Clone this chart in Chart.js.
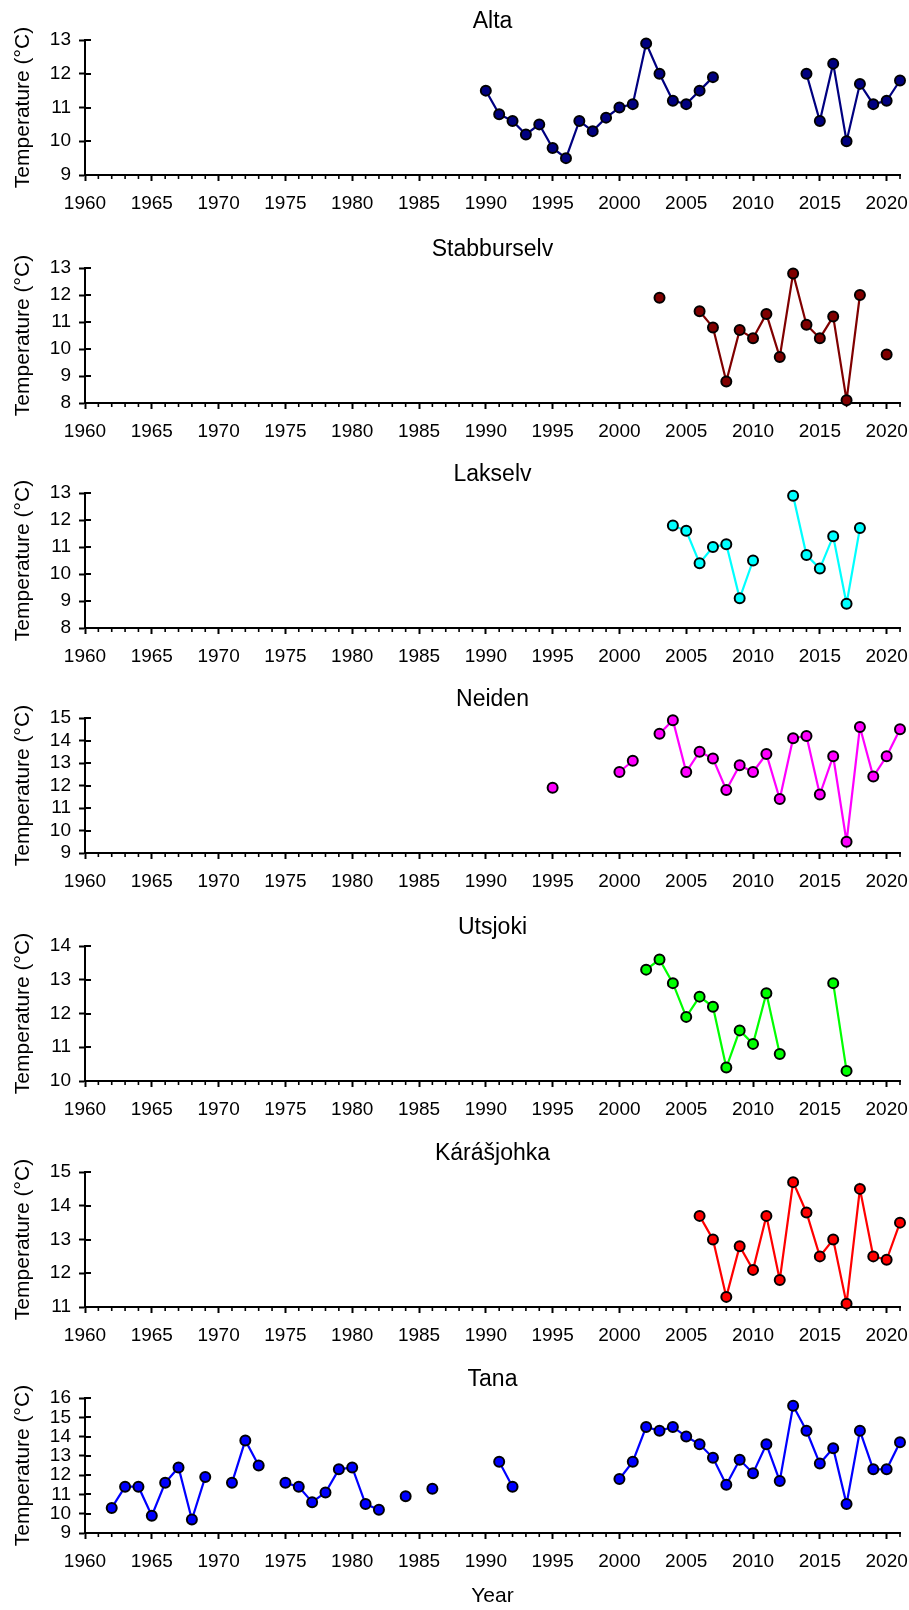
<!DOCTYPE html>
<html>
<head>
    <title>River temperatures</title>
    <style>
        body { margin: 0; background: #fff; }
        #wrap { position: relative; width: 909px; height: 1610px; }
        #wrap canvas { position: absolute; left: 0; }
    </style>
</head>
<body>
    <div id="wrap"></div>

    <script src="https://cdn.jsdelivr.net/npm/chart.js"></script>
    <script>
        // Mean temperature (°C) per year, first value belongs to the start year; null = no data
        const altaStart = 1990;
        const altaTemp = [11.5, 10.8, 10.6, 10.2, 10.5, 9.8, 9.5, 10.6, 10.3, 10.7, 11.0, 11.1, 12.9, 12.0, 11.2, 11.1, 11.5, 11.9,
            null, null, null, null, null, null, 12.0, 10.6, 12.3, 10.0, 11.7, 11.1, 11.2, 11.8];

        const stabburselvStart = 2003;
        const stabburselvTemp = [11.9, null, null, 11.4, 10.8, 8.8, 10.7, 10.4, 11.3, 9.7, 12.8, 10.9, 10.4, 11.2, 8.1, 12.0, null, 9.8];

        const lakselvStart = 2004;
        const lakselvTemp = [11.8, 11.6, 10.4, 11.0, 11.1, 9.1, 10.5, null, null, 12.9, 10.7, 10.2, 11.4, 8.9, 11.7];

        const neidenStart = 1995;
        const neidenTemp = [11.9, null, null, null, null, 12.6, 13.1, null, 14.3, 14.9, 12.6, 13.5, 13.2, 11.8, 12.9, 12.6,
            13.4, 11.4, 14.1, 14.2, 11.6, 13.3, 9.5, 14.6, 12.4, 13.3, 14.5];

        const utsjokiStart = 2002;
        const utsjokiTemp = [13.3, 13.6, 12.9, 11.9, 12.5, 12.2, 10.4, 11.5, 11.1, 12.6, 10.8, null, null, null, 12.9, 10.3];

        const karasjohkaStart = 2006;
        const karasjohkaTemp = [13.7, 13.0, 11.3, 12.8, 12.1, 13.7, 11.8, 14.7, 13.8, 12.5, 13.0, 11.1, 14.5, 12.5, 12.4, 13.5];

        const tanaStart = 1962;
        const tanaTemp = [10.3, 11.4, 11.4, 9.9, 11.6, 12.4, 9.7, 11.9, null, 11.6, 13.8, 12.5, null,
            11.6, 11.4, 10.6, 11.1, 12.3, 12.4, 10.5, 10.2, null, 10.9, null, 11.3, null, null, null, null,
            12.7, 11.4, null, null, null, null, null, null, null,
            11.8, 12.7, 14.5, 14.3, 14.5, 14.0, 13.6, 12.9, 11.5, 12.8, 12.1, 13.6, 11.7, 15.6, 14.3, 12.6, 13.4, 10.5, 14.3, 12.3, 12.3, 13.7];

        const yearMin = 1960;
        const yearMax = 2021;

        const panels = [
            { name: 'Alta',        start: altaStart,        temp: altaTemp,        color: '#000080', yMin: 9,  yMax: 13 },
            { name: 'Stabburselv', start: stabburselvStart, temp: stabburselvTemp, color: '#800000', yMin: 8,  yMax: 13 },
            { name: 'Lakselv',     start: lakselvStart,     temp: lakselvTemp,     color: '#00ffff', yMin: 8,  yMax: 13 },
            { name: 'Neiden',      start: neidenStart,      temp: neidenTemp,      color: '#ff00ff', yMin: 9,  yMax: 15 },
            { name: 'Utsjoki',     start: utsjokiStart,     temp: utsjokiTemp,     color: '#00ff00', yMin: 10, yMax: 14 },
            { name: 'Kárášjohka',  start: karasjohkaStart,  temp: karasjohkaTemp,  color: '#ff0000', yMin: 11, yMax: 15 },
            { name: 'Tana',        start: tanaStart,        temp: tanaTemp,        color: '#0000ff', yMin: 9,  yMax: 16 }
        ];

        // layout of the stacked panels (canvas top, canvas height)
        const panelTops = [0, 228, 453, 678, 906, 1132, 1358];
        const panelHeight = 226;
        const lastHeight = 1610 - 1358;
        const plotBottom = 175;   // x axis line inside each canvas
        const plotLeft = 85;

        Chart.defaults.font.family = 'Arial, "Liberation Sans", sans-serif';
        Chart.defaults.color = '#000';

        // crossing y ticks and minor year ticks
        const extraTicks = {
            id: 'extraTicks',
            beforeDatasetsDraw(chart) {
                const { ctx } = chart;
                const x = chart.scales.x, y = chart.scales.y;
                ctx.save();
                ctx.strokeStyle = '#000';
                ctx.lineWidth = 2;
                ctx.beginPath();
                y.ticks.forEach(t => {
                    const py = Math.round(y.getPixelForValue(t.value));
                    ctx.moveTo(x.left, py);
                    ctx.lineTo(x.left + 6, py);
                });
                ctx.stroke();
                ctx.lineWidth = 1.6;
                ctx.beginPath();
                for (let yr = yearMin + 1; yr <= yearMax; yr++) {
                    if (yr % 5 === 0) continue;
                    const px = x.getPixelForValue(yr);
                    ctx.moveTo(px, y.bottom);
                    ctx.lineTo(px, y.bottom + 4);
                }
                ctx.stroke();
                ctx.restore();
            }
        };

        const wrap = document.getElementById('wrap');

        panels.forEach((p, i) => {
            const isLast = i === panels.length - 1;
            const h = isLast ? lastHeight : panelHeight;
            const canvas = document.createElement('canvas');
            canvas.width = 909;
            canvas.height = h;
            canvas.style.top = panelTops[i] + 'px';
            canvas.style.width = '909px';
            canvas.style.height = h + 'px';
            wrap.appendChild(canvas);

            const points = p.temp.map((v, k) => ({ x: p.start + k, y: v }));

            new Chart(canvas, {
                type: 'line',
                data: {
                    datasets: [{
                        label: p.name,
                        data: points,
                        borderColor: p.color,
                        borderWidth: 2.2,
                        backgroundColor: p.color,
                        pointBackgroundColor: p.color,
                        pointBorderColor: '#000',
                        pointBorderWidth: 2,
                        pointRadius: 5,
                        spanGaps: false,
                        tension: 0,
                        clip: false
                    }]
                },
                options: {
                    responsive: false,
                    devicePixelRatio: 1,
                    animation: false,
                    events: [],
                    layout: { padding: { left: 0, right: 9, top: 0, bottom: 0 } },
                    plugins: {
                        legend: { display: false },
                        tooltip: { enabled: false },
                        title: {
                            display: true,
                            text: p.name,
                            fullSize: false,
                            color: '#000',
                            font: { size: 23, weight: 'normal', lineHeight: 1.2 },
                            padding: { top: 7.5, bottom: 4.9 }
                        }
                    },
                    scales: {
                        x: {
                            type: 'linear',
                            min: yearMin,
                            max: yearMax,
                            afterBuildTicks: s => { s.ticks = s.ticks.filter(t => t.value % 5 === 0); },
                            afterFit: s => { s.height = h - plotBottom; s.paddingLeft = 0; s.paddingRight = 0; },
                            ticks: {
                                stepSize: 5,
                                includeBounds: false,
                                autoSkip: false,
                                maxRotation: 0,
                                padding: 11,
                                font: { size: 19 },
                                callback: v => String(v)
                            },
                            grid: {
                                drawOnChartArea: false,
                                drawTicks: true,
                                tickLength: 6,
                                tickWidth: 2,
                                tickColor: '#000'
                            },
                            border: { display: true, color: '#000', width: 2 },
                            title: {
                                display: isLast,
                                text: 'Year',
                                font: { size: 21, lineHeight: 1.2 },
                                padding: { top: 0, bottom: 1 }
                            }
                        },
                        y: {
                            min: p.yMin,
                            max: p.yMax,
                            afterFit: s => { s.width = plotLeft; s.paddingTop = 0; s.paddingBottom = 0; },
                            ticks: {
                                stepSize: 1,
                                autoSkip: false,
                                padding: 8,
                                font: { size: 19 }
                            },
                            grid: {
                                drawOnChartArea: false,
                                drawTicks: true,
                                tickLength: 6,
                                tickWidth: 2,
                                tickColor: '#000'
                            },
                            border: { display: true, color: '#000', width: 2 },
                            title: {
                                display: true,
                                text: 'Temperature (°C)',
                                font: { size: 21, lineHeight: 1.2 },
                                padding: { top: 11, bottom: 0 }
                            }
                        }
                    }
                },
                plugins: [extraTicks]
            });
        });
    </script>
</body>
</html>
